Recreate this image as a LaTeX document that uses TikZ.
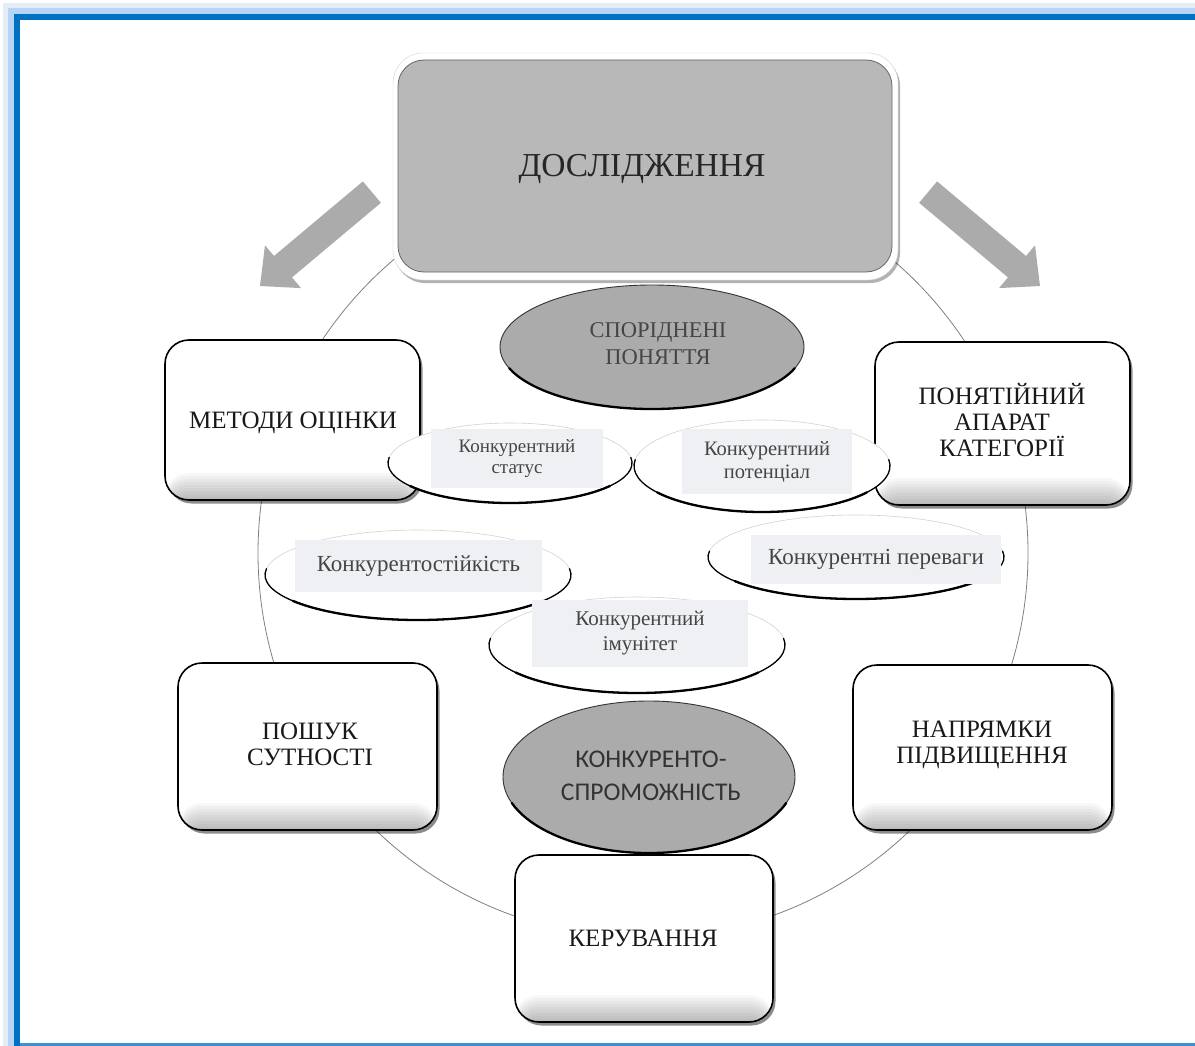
\documentclass[tikz,border=0pt]{standalone}
\usepackage{fontspec}
\setmainfont{Liberation Serif}
\newfontfamily\calib{Carlito}
\usetikzlibrary{shadows,calc,shapes.geometric}
\definecolor{frameblue}{HTML}{0070C0}
\definecolor{glowA}{HTML}{B8D4F4}
\definecolor{glowB}{HTML}{E4EEFA}
\definecolor{botblue}{HTML}{3D8FD6}
\definecolor{topgray}{HTML}{B8B8B8}
\definecolor{ellgray}{HTML}{ABABAB}
\definecolor{arrgray}{HTML}{ABABAB}
\definecolor{txtbg}{HTML}{EEF0F3}
\definecolor{txtgray}{HTML}{454545}
\tikzset{
  bx/.style={rounded corners=24pt, draw=black, line width=1.6pt, fill=white,
    drop shadow={shadow xshift=2.5pt, shadow yshift=-3.5pt, opacity=0.45, fill=black},
    path picture={\foreach \k in {1,...,9}{
      \fill[black, opacity=0.03] (path picture bounding box.south west) rectangle ([yshift=\k*3pt]path picture bounding box.south east);}},
    inner sep=0pt},
  bxt/.style={align=center, inner sep=0pt, text=black!90, font=\fontsize{25}{26}\selectfont},
  tbg/.style={fill=txtbg, inner sep=0pt, align=center, text=txtgray},
  ring/.style={draw=gray!35, line width=0.6pt, fill=white},
  lowarc/.style={draw=black, line width=1.3pt, line cap=round},
  lowarcB/.style={draw=black, line width=2.3pt, line cap=round},
  garrow/.style={fill=arrgray}
}
\begin{document}
\begin{tikzpicture}[x=1pt,y=-1pt]
\useasboundingbox (0,0) rectangle (1195,1046);
\fill[white] (0,0) rectangle (1195,1046);
% frame
\fill[glowB] (3,3) rectangle (1195,14);
\fill[glowB] (3,3) rectangle (14,1046);
\fill[glowA] (8,8) rectangle (1195,14);
\fill[glowA] (8,8) rectangle (14,1046);
\fill[frameblue] (14,14) rectangle (1195,20);
\fill[frameblue] (14,14) rectangle (20,1046);
\fill[botblue] (20,1043) rectangle (1195,1046);

% big circle
\coordinate (cc) at (643,553);
\draw[black!50, line width=0.8pt] (cc) circle[radius=385];

% block arrows
\fill[garrow] (362.9,181.4) -- (274.0,256.0) -- (265.0,245.3) -- (260,286) -- (301.0,288.1) -- (292.0,277.4) -- (380.9,202.8) -- cycle;
\fill[garrow] (937.1,181.4) -- (1026.0,256.0) -- (1035.0,245.3) -- (1040,286) -- (999.0,288.1) -- (1008.0,277.4) -- (919.1,202.8) -- cycle;

% top box
\node[draw=gray!35, fill=white, rounded corners=30pt, minimum width=505pt, minimum height=227pt,
  drop shadow={shadow xshift=2pt, shadow yshift=-3pt, opacity=0.3, fill=black}] (topouter) at (645.5,166.5) {};
\node[fill=topgray, draw=gray!80!black, line width=0.8pt, rounded corners=26pt, minimum width=494pt, minimum height=212pt] (top) at (645,166) {};
\node[font=\fontsize{33.5}{36}\selectfont, text=black!85, inner sep=0pt] (toptxt) at (642,169) {ДОСЛІДЖЕННЯ};

% grey ellipse top
\fill[ellgray] (652,347) ellipse[x radius=152, y radius=62];
\draw[black!80, line width=0.9pt] (652,347) ellipse[x radius=152, y radius=62];
\draw[lowarcB] ([shift={(20:152 and 62)}]652,347) arc[start angle=20, end angle=160, x radius=152, y radius=62];
\node[align=center, text=txtgray, font=\fontsize{22.5}{27}\selectfont] (sporid) at (658,344) {СПОРІДНЕНІ\\ПОНЯТТЯ};

% boxes
\node[bx, minimum width=255pt, minimum height=160pt] (metody) at (292.5,420) {};
\node[bxt] (metodyT) at (293,423) {МЕТОДИ ОЦІНКИ};
\node[bx, minimum width=255pt, minimum height=163pt] (ponyat) at (1002.5,423.5) {};
\node[bxt] (ponyatT) at (1002,420) {ПОНЯТІЙНИЙ\\АПАРАТ\\КАТЕГОРІЇ};
\node[bx, minimum width=259pt, minimum height=167pt] (poshuk) at (307.5,746.5) {};
\node[bxt] (poshukT) at (310,744) {ПОШУК\\СУТНОСТІ};
\node[bx, minimum width=259pt, minimum height=165pt] (napr) at (982.5,747.5) {};
\node[bxt] (naprT) at (982,745) {НАПРЯМКИ\\ПІДВИЩЕННЯ};
\node[bx, minimum width=258pt, minimum height=167pt] (kerev) at (644,938.5) {};
\node[bxt] (kerevT) at (643,938) {КЕРУВАННЯ};

% grey ellipse bottom
\fill[ellgray] (649,777) ellipse[x radius=146, y radius=76];
\draw[black!80, line width=0.9pt] (649,777) ellipse[x radius=146, y radius=76];
\draw[lowarcB] ([shift={(20:146 and 76)}]649,777) arc[start angle=20, end angle=160, x radius=146, y radius=76];
\node[align=center, text=black!80, font={\calib\fontsize{25.5}{33}\selectfont}] (konk) at (651,776) {КОНКУРЕНТО-\\СПРОМОЖНІСТЬ};

% white ellipses
% stiykist
\fill[white] (418,575) ellipse[x radius=153, y radius=45];
\draw[ring] (418,575) ellipse[x radius=153, y radius=45];
\draw[lowarc] ([shift={(-8:153 and 45)}]418,575) arc[start angle=-8, end angle=188, x radius=153, y radius=45];
\draw[lowarcB] ([shift={(35:153 and 45)}]418,575) arc[start angle=35, end angle=145, x radius=153, y radius=45];
\node[tbg, minimum width=247pt, minimum height=52pt, font=\fontsize{23}{25}\selectfont] (stiyk) at (418.5,566) {Конкурентостійкість};
% perevagy
\fill[white] (856,557) ellipse[x radius=148, y radius=42];
\draw[ring] (856,557) ellipse[x radius=148, y radius=42];
\draw[lowarc] ([shift={(-8:148 and 42)}]856,557) arc[start angle=-8, end angle=188, x radius=148, y radius=42];
\draw[lowarcB] ([shift={(35:148 and 42)}]856,557) arc[start angle=35, end angle=145, x radius=148, y radius=42];
\node[tbg, minimum width=250pt, minimum height=49pt, font=\fontsize{23}{25}\selectfont] (perev) at (876,559) {Конкурентні переваги};
% imunitet
\fill[white] (637,645) ellipse[x radius=148, y radius=48];
\draw[ring] (637,645) ellipse[x radius=148, y radius=48];
\draw[lowarc] ([shift={(-8:148 and 48)}]637,645) arc[start angle=-8, end angle=188, x radius=148, y radius=48];
\draw[lowarcB] ([shift={(35:148 and 48)}]637,645) arc[start angle=35, end angle=145, x radius=148, y radius=48];
\node[tbg, minimum width=216pt, minimum height=67pt, font=\fontsize{21}{25}\selectfont] (imun) at (640,633.5) {Конкурентний\\імунітет};
% status
\fill[white] (510,463) ellipse[x radius=122, y radius=40];
\draw[ring] (510,463) ellipse[x radius=122, y radius=40];
\draw[lowarc] ([shift={(-8:122 and 40)}]510,463) arc[start angle=-8, end angle=188, x radius=122, y radius=40];
\draw[lowarcB] ([shift={(35:122 and 40)}]510,463) arc[start angle=35, end angle=145, x radius=122, y radius=40];
\node[tbg, minimum width=172pt, minimum height=59pt, font=\fontsize{19}{20.5}\selectfont] (status) at (517,458.5) {Конкурентний\\статус};
% potential
\fill[white] (762,466) ellipse[x radius=128, y radius=46];
\draw[ring] (762,466) ellipse[x radius=128, y radius=46];
\draw[lowarc] ([shift={(-8:128 and 46)}]762,466) arc[start angle=-8, end angle=188, x radius=128, y radius=46];
\draw[lowarcB] ([shift={(35:128 and 46)}]762,466) arc[start angle=35, end angle=145, x radius=128, y radius=46];
\node[tbg, minimum width=170pt, minimum height=65pt, font=\fontsize{20.5}{23}\selectfont] (potent) at (767,461.5) {Конкурентний\\потенціал};
\end{tikzpicture}
\end{document}
